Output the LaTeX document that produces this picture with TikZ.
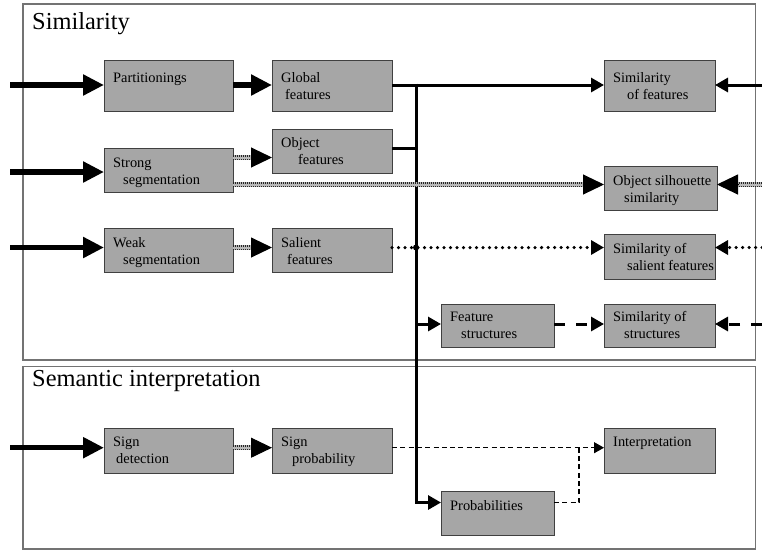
\documentclass[tikz,border=0pt]{standalone}
\usepackage{fontspec}
\setmainfont{Liberation Serif}
\usetikzlibrary{arrows.meta,calc}
\tikzset{
 frame/.style={draw=black!55, line width=1.5pt},
 box/.style={draw=black!75, fill=gray!70, line width=0.9pt, inner sep=0pt, outer sep=0pt, anchor=north west},
 lbl/.style={anchor=north west, inner sep=0pt, align=left, font=\fontsize{14.4}{17}\selectfont},
 ttl/.style={anchor=base west, inner sep=0pt, font=\fontsize{24.4}{28}\selectfont},
 bigtip/.style={-{Triangle[length=21pt,width=20pt]}},
 medtip/.style={-{Triangle[length=13pt,width=14pt]}},
 smalltip/.style={-{Triangle[length=10pt,width=11pt]}},
 heavy/.style={line width=5.5pt},
 med/.style={line width=3pt},
 hband/.style={line width=5pt, draw=gray!55, shorten >=20pt},
 hdots/.style={draw=black!85, line width=1.5pt, double=gray!55, double distance=2pt, dash pattern=on 1pt off 1pt, shorten >=20pt},
 dots/.style={line width=3.5pt, line cap=round, dash pattern=on 0pt off 6.5pt},
 ldash/.style={line width=3pt, dash pattern=on 11pt off 11pt},
 tdash/.style={line width=1.2pt, dash pattern=on 5pt off 3.3pt},
}
\newcommand\boxtext[3]{\node[lbl] (#1t) at ($(#1.north west)+(9,#2-12)$) {\rule{0pt}{12pt}#3};}
\newcommand\hatchto[3]{%
 \draw[hband] (#1) -- (#2);
 \draw[hdots] (#1) -- (#2);
 \draw[bigtip, line width=1pt] ($(#2)+(#3,0)$) -- (#2);}
\begin{document}
\begin{tikzpicture}[x=1pt,y=-1pt]
\useasboundingbox (0,0) rectangle (762,550);
% frames
\draw[frame] (23,4) rectangle (755.5,360);
\draw[frame] (23,366.5) rectangle (755.5,549);
\node[ttl] (simtitle) at (32,29.5) {Similarity};
\node[ttl] (semtitle) at (32,386.5) {Semantic interpretation};
% boxes
\node[box, minimum width=129pt, minimum height=51pt] (part) at (104,60) {};
\node[box, minimum width=120pt, minimum height=51pt] (glob) at (272,60) {};
\node[box, minimum width=120pt, minimum height=44pt] (objf) at (272,129) {};
\node[box, minimum width=129pt, minimum height=44pt] (strong) at (104,148) {};
\node[box, minimum width=129pt, minimum height=44pt] (weak) at (104,228) {};
\node[box, minimum width=120pt, minimum height=44pt] (sal) at (272,228) {};
\node[box, minimum width=111pt, minimum height=51pt] (simf) at (604,60) {};
\node[box, minimum width=113pt, minimum height=44pt] (sil) at (604,166) {};
\node[box, minimum width=111pt, minimum height=45pt] (ssal) at (604,234) {};
\node[box, minimum width=113pt, minimum height=43pt] (fstr) at (441,304) {};
\node[box, minimum width=111pt, minimum height=43pt] (sstr) at (604,304) {};
\node[box, minimum width=129pt, minimum height=45pt] (sdet) at (104,428) {};
\node[box, minimum width=120pt, minimum height=45pt] (sprob) at (272,428) {};
\node[box, minimum width=111pt, minimum height=45pt] (interp) at (604,428) {};
\node[box, minimum width=113pt, minimum height=44pt] (prob) at (441,491) {};
% texts
\boxtext{part}{22}{Partitionings}
\boxtext{glob}{22}{Global\\\hspace*{4pt}features}
\boxtext{objf}{18.5}{Object\\\hspace*{17pt}features}
\boxtext{strong}{19.3}{Strong\\\hspace*{10pt}segmentation}
\boxtext{weak}{19.3}{Weak\\\hspace*{10pt}segmentation}
\boxtext{sal}{19.3}{Salient\\\hspace*{6pt}features}
\boxtext{simf}{22}{Similarity\\\hspace*{14pt}of features}
\boxtext{sil}{19}{Object silhouette\\\hspace*{11pt}similarity}
\boxtext{ssal}{19.3}{Similarity of\\\hspace*{14pt}salient features}
\boxtext{fstr}{17.7}{Feature\\\hspace*{11pt}structures}
\boxtext{sstr}{17.7}{Similarity of\\\hspace*{11pt}structures}
\boxtext{sdet}{18.7}{Sign\\\hspace*{3pt}detection}
\boxtext{sprob}{18.7}{Sign\\\hspace*{11pt}probability}
\boxtext{interp}{18.7}{Interpretation}
\boxtext{prob}{19}{Probabilities}
% coordinates
\coordinate (in1) at (10,85);
\coordinate (in2) at (10,172);
\coordinate (in3) at (10,247.5);
\coordinate (in4) at (10,447.7);
\coordinate (r1) at (762,85);
\coordinate (r2) at (762,184.5);
\coordinate (r3) at (762,247.5);
\coordinate (r4) at (762,324);
\coordinate (bt) at (416,83.5);
\coordinate (gy) at (416,85);
\coordinate (oj) at (416,148);
\coordinate (hy1) at (416,157.5);
\coordinate (hy2) at (416,184.5);
\coordinate (jd) at (416,247.5);
\coordinate (fj) at (416,324);
\coordinate (bb) at (416,502.5);
\coordinate (sy) at (416,447.7);
\coordinate (pj) at (579,447.7);
% input arrows
\draw[heavy, bigtip] (in1) -- (in1 -| part.west);
\draw[heavy, bigtip] (in2) -- (in2 -| strong.west);
\draw[heavy, bigtip] (in3) -- (in3 -| weak.west);
\draw[heavy, bigtip] (in4) -- (in4 -| sdet.west);
% row 1
\draw[heavy, bigtip] (part.east |- gy) -- (glob.west |- gy);
\draw[med, medtip] (glob.east |- gy) -- (simf.west |- gy);
\draw[med, medtip] (r1) -- (r1 -| simf.east);
% bus
\draw[med, medtip] (bt) -- (bb) -- (bb -| prob.west);
\draw[med] (objf.east |- oj) -- (oj);
\draw[med, medtip] (fj) -- (fj -| fstr.west);
% hatched
\hatchto{strong.east |- hy1}{objf.west |- hy1}{-21}
\hatchto{strong.east |- hy2}{sil.west |- hy2}{-21}
\hatchto{r2}{r2 -| sil.east}{21}
\hatchto{weak.east |- jd}{sal.west |- jd}{-21}
\hatchto{sdet.east |- sy}{sprob.west |- sy}{-21}
% dotted
\draw[dots, medtip] (sal.east |- jd) -- (ssal.west |- jd);
\fill (jd) circle (3pt);
\draw[dots, medtip] (r3) -- (r3 -| ssal.east);
% dashed
\draw[ldash, medtip] (fstr.east |- fj) -- (sstr.west |- fj);
\draw[ldash, medtip] (r4) -- (r4 -| sstr.east);
\draw[tdash, smalltip] (sprob.east |- sy) -- (interp.west |- sy);
\draw[tdash] (prob.east |- bb) -| (pj);
\end{tikzpicture}
\end{document}
